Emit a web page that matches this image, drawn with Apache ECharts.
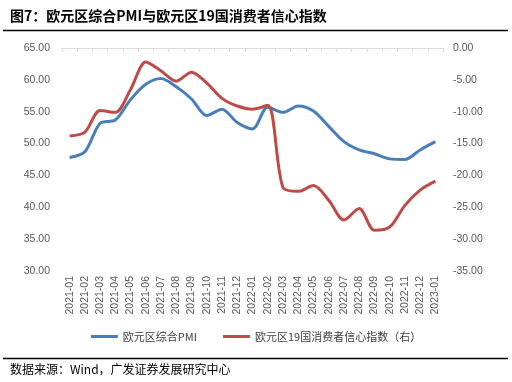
<!DOCTYPE html>
<html><head><meta charset="utf-8">
<script src="https://cdn.jsdelivr.net/npm/echarts@6/dist/echarts.min.js"></script>
<style>html,body{margin:0;padding:0;background:#fff}#c{width:512px;height:382px}</style>
</head><body><div id="c"></div>
<script>
const categories = ['2021-01','2021-02','2021-03','2021-04','2021-05','2021-06','2021-07','2021-08','2021-09','2021-10','2021-11','2021-12','2022-01','2022-02','2022-03','2022-04','2022-05','2022-06','2022-07','2022-08','2022-09','2022-10','2022-11','2022-12','2023-01'];
const pmi = [47.8,48.7,53.2,53.7,56.9,59.3,60.2,58.9,57.0,54.4,55.4,53.3,52.3,55.7,54.9,55.9,55.1,52.7,50.3,49.0,48.4,47.6,47.5,49.0,50.3];
const confidence = [-13.8,-13.2,-9.8,-10.1,-6.5,-2.2,-3.6,-5.2,-3.8,-5.5,-7.9,-9.1,-9.6,-9.0,-21.9,-22.5,-21.6,-23.9,-27.0,-25.2,-28.6,-28.1,-24.7,-22.3,-20.9];
const seriesNames = ['欧元区综合PMI','欧元区19国消费者信心指数（右）'];
const titleText = '图7：欧元区综合PMI与欧元区19国消费者信心指数';
const sourceText = '数据来源：Wind，广发证券发展研究中心';

const chart = echarts.init(document.getElementById('c'));
const labelStyle = {color:'#595959', fontSize:10.5, fontFamily:'Liberation Sans, Arial, sans-serif'};
chart.setOption({
  animation:false,
  grid:{left:62, right:69, top:48, bottom:111},
  legend:{
    top:326, left:'center', itemWidth:27, itemHeight:3, itemGap:26,
    icon:'rect',
    textStyle:{color:'#404040', fontSize:11, fontFamily:'Noto Sans CJK SC'},
    data:seriesNames
  },
  xAxis:{
    type:'category', data:categories, boundaryGap:true,
    axisLine:{lineStyle:{color:'#d9d9d9'}},
    axisTick:{show:true, length:4, lineStyle:{color:'#d9d9d9'}},
    axisLabel:Object.assign({rotate:90, interval:0, margin:5}, labelStyle)
  },
  yAxis:[
    {type:'value', min:30, max:65, interval:5, position:'left',
     splitLine:{show:false}, axisLine:{show:false}, axisTick:{show:false},
     axisLabel:Object.assign({margin:12, formatter:v=>v.toFixed(2)}, labelStyle)},
    {type:'value', min:-35, max:0, interval:5, position:'right',
     splitLine:{show:false}, axisLine:{show:false}, axisTick:{show:false},
     axisLabel:Object.assign({margin:10, formatter:v=>v.toFixed(2)}, labelStyle)}
  ],
  series:[
    {name:seriesNames[0], type:'line', data:pmi, yAxisIndex:0, smooth:0.3, symbol:'none',
     lineStyle:{width:3, color:'#4a7ebb'}, itemStyle:{color:'#4a7ebb'}},
    {name:seriesNames[1], type:'line', data:confidence, yAxisIndex:1, smooth:0.3, symbol:'none',
     lineStyle:{width:3, color:'#be4b48'}, itemStyle:{color:'#be4b48'}}
  ],
  graphic:[
    {type:'text', left:10, top:9, style:{text:titleText, fill:'#000', font:'bold 14px "Noto Sans CJK SC", sans-serif'}},
    {type:'line', shape:{x1:3, y1:30.5, x2:508, y2:30.5}, style:{stroke:'#000', lineWidth:1.5}},
    {type:'line', shape:{x1:3, y1:358.5, x2:508, y2:358.5}, style:{stroke:'#000', lineWidth:1.5}},
    {type:'text', left:10, top:363, style:{text:sourceText, fill:'#000', font:'12px "Noto Sans CJK SC", sans-serif'}}
  ]
});
</script></body></html>
